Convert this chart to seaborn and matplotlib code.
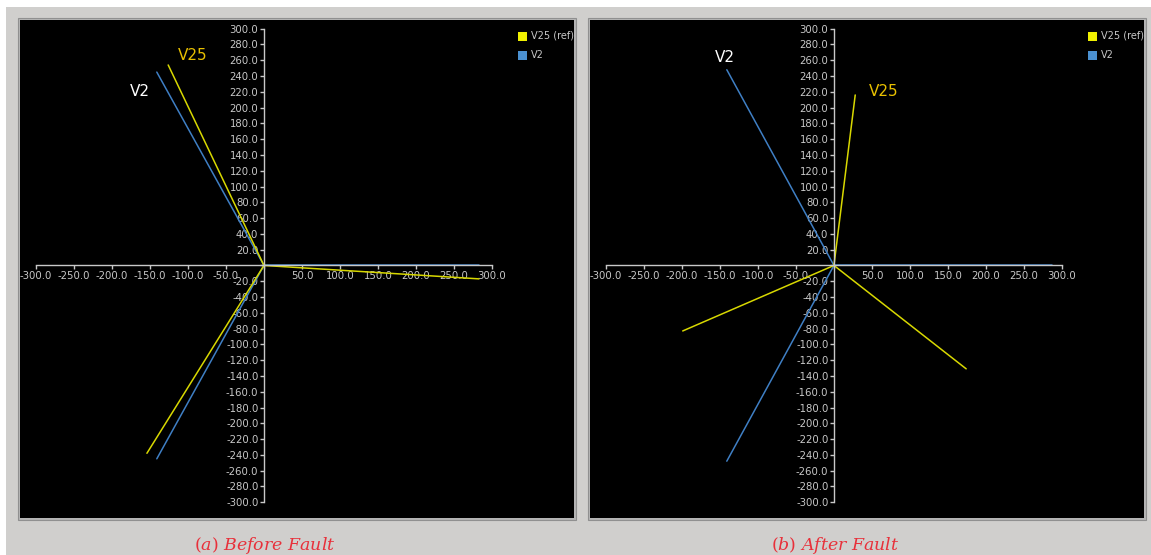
import numpy as np
import pandas as pd
import matplotlib
matplotlib.use('Agg')
import matplotlib.pyplot as plt
import seaborn as sns
from matplotlib.patches import Rectangle
from matplotlib.ticker import FuncFormatter, FixedLocator

# phasor end points (x, y)
v2_before_x = [283.0, -141.0, -141.0]
v2_before_y = [0.0, 245.0, -245.0]
v25_before_x = [283.0, -126.0, -154.0]
v25_before_y = [-17.0, 254.0, -238.0]

v2_after_x = [287.0, -141.0, -141.0]
v2_after_y = [0.0, 248.0, -248.0]
v25_after_x = [174.0, 28.0, -199.0]
v25_after_y = [-131.0, 216.0, -83.0]

x_ticks = list(range(-300, 301, 50))
y_ticks = list(range(-300, 301, 20))
captions = ['$(a)\\ Before\\ Fault$', '$(b)\\ After\\ Fault$']

sns.set_style('dark')
plt.rcParams['font.family'] = ['DejaVu Sans']
plt.rcParams['mathtext.fontset'] = 'dejavuserif'

W, H = 1151, 555
fig = plt.figure(figsize=(W / 100, H / 100), dpi=100)
fig.patch.set_facecolor('white')
fig.patches.append(Rectangle((6 / W, 0), 1 - 6 / W, (H - 7) / H, transform=fig.transFigure,
                             facecolor='#d0cfcd', edgecolor='none', zorder=0))

yellow = '#d8d800'
blue = '#3f7fc4'
grey = '#c8c8c8'


def phasor_rows(xs, ys, name):
    rows = []
    for i, (x, y) in enumerate(zip(xs, ys)):
        rows.append({'x': 0.0, 'y': 0.0, 'ph': f'{name}_{i}', 's': name})
        rows.append({'x': x, 'y': y, 'ph': f'{name}_{i}', 's': name})
    return rows


panels = [
    (20, (v25_before_x, v25_before_y), (v2_before_x, v2_before_y),
     [('V25', 193, 55, '#e8c000'), ('V2', 140, 92, 'white')]),
    (590, (v25_after_x, v25_after_y), (v2_after_x, v2_after_y),
     [('V2', 725, 58, 'white'), ('V25', 884, 92, '#e8c000')]),
]

for k, (left, v25, v2, labels) in enumerate(panels):
    # thin grey frame round the black plot area
    fig.patches.append(Rectangle(((left - 2) / W, (H - 520) / H), 558 / W, 502 / H,
                                 transform=fig.transFigure, facecolor='#b4b4b4',
                                 edgecolor='#909090', lw=0.8, zorder=0.5))
    ax = fig.add_axes([left / W, (H - 518) / H, 554 / W, 498 / H])
    ax.set_zorder(2)
    ax.set_facecolor('black')

    df = pd.DataFrame(phasor_rows(v25[0], v25[1], 'V25 (ref)') + phasor_rows(v2[0], v2[1], 'V2'))
    for name, col in [('V2', blue), ('V25 (ref)', yellow)]:
        sub = df[df['s'] == name]
        sns.lineplot(data=sub, x='x', y='y', units='ph', estimator=None, sort=False,
                     color=col, lw=1.1, ax=ax, legend=False)

    ax.set_xlim(-321, 408)
    ax.set_ylim(-320, 311)
    for s in ['top', 'right']:
        ax.spines[s].set_visible(False)
    ax.spines['left'].set_position(('data', 0))
    ax.spines['bottom'].set_position(('data', 0))
    ax.spines['left'].set_bounds(-300, 300)
    ax.spines['bottom'].set_bounds(-300, 300)
    for s in ['left', 'bottom']:
        ax.spines[s].set_color(grey)
        ax.spines[s].set_linewidth(1)
    ax.xaxis.set_major_locator(FixedLocator(x_ticks))
    ax.yaxis.set_major_locator(FixedLocator(y_ticks))
    fmt = FuncFormatter(lambda v, p: '' if abs(v) < 1e-9 else f'{v:.1f}')
    ax.xaxis.set_major_formatter(fmt)
    ax.yaxis.set_major_formatter(fmt)
    ax.tick_params(axis='both', colors=grey, labelsize=7.3, length=3, width=1, pad=1,
                   direction='out', bottom=True, left=True)
    ax.grid(False)
    ax.set_xlabel('')
    ax.set_ylabel('')

    # legend squares at the top right
    for j, (name, col) in enumerate([('V25 (ref)', '#f0f000'), ('V2', '#4a90d0')]):
        ypix = 36 + j * 19
        fig.patches.append(Rectangle(((left + 498) / W, (H - ypix - 5) / H), 9 / W, 9 / H,
                                     transform=fig.transFigure, facecolor=col,
                                     edgecolor='none', zorder=5))
        fig.text((left + 511) / W, (H - ypix) / H, name, color=grey, fontsize=7,
                 va='center', ha='left', zorder=5)

    for text, px, py, col in labels:
        fig.text(px / W, (H - py) / H, text, color=col, fontsize=11, ha='center',
                 va='center', zorder=5)

    fig.text((left + 245) / W, (H - 545) / H, captions[k], color='#e8303a', fontsize=12.5,
             ha='center', va='center')

fig.savefig('out.png', dpi=100, facecolor=fig.get_facecolor())
